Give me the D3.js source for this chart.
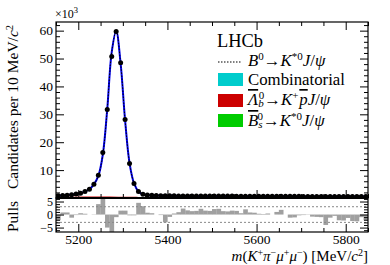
<!DOCTYPE html>
<html lang="en">
<head>
<meta charset="UTF-8">
<title>B0 to K*0 J/psi mass fit</title>
<script src="https://cdn.jsdelivr.net/npm/d3@7"></script>
<style>
  body { margin: 0; background: #fff; }
  svg, svg text { font-family: "Liberation Serif", "DejaVu Serif", serif; }
  .tick text { font-size: 13.5px; fill: #000; font-family: "Liberation Serif", serif; }
  .pullaxis .tick text { font-size: 12px; }
  .tick line { stroke: #000; stroke-width: 1; }
</style>
</head>
<body>
<svg width="390" height="265"></svg>
<script>
// bin centres (MeV/c^2), 10 MeV bins from 5150 to 5850
const massBins = [5155,5165,5175,5185,5195,5205,5215,5225,5235,5245,
  5255,5265,5275,5285,5295,5305,5315,5325,5335,5345,
  5355,5365,5375,5385,5395,5405,5415,5425,5435,5445,
  5455,5465,5475,5485,5495,5505,5515,5525,5535,5545,
  5555,5565,5575,5585,5595,5605,5615,5625,5635,5645,
  5655,5665,5675,5685,5695,5705,5715,5725,5735,5745,
  5755,5765,5775,5785,5795,5805,5815,5825,5835,5845];
// candidates per bin, in thousands
const candidates = [0.8,0.9,1.0,1.2,1.4,1.7,2.3,3.1,4.9,8.2,
  16.3,31.7,50.7,59.7,48.5,28.1,12.4,5.2,2.3,1.3,
  1.05,0.95,0.9,0.85,0.8,0.78,0.77,0.76,0.75,0.75,
  0.74,0.73,0.72,0.72,0.71,0.7,0.7,0.69,0.68,0.68,
  0.67,0.66,0.66,0.65,0.64,0.64,0.63,0.62,0.62,0.61,
  0.61,0.6,0.6,0.59,0.59,0.58,0.58,0.57,0.57,0.56,
  0.55,0.55,0.55,0.54,0.54,0.53,0.53,0.52,0.52,0.51];
// total fit at bin centres, in thousands
const fitTotal = [0.85,0.9,1.0,1.2,1.4,1.75,2.3,3.15,4.9,7.9,
  15.5,31.9,52.3,59.9,48.2,27.9,12.5,5.3,2.35,1.35,
  1.05,0.95,0.9,0.85,0.8,0.78,0.77,0.76,0.75,0.74,
  0.73,0.72,0.71,0.71,0.7,0.69,0.69,0.68,0.67,0.67,
  0.66,0.65,0.65,0.64,0.63,0.63,0.62,0.61,0.61,0.6,
  0.6,0.59,0.59,0.58,0.58,0.57,0.57,0.56,0.56,0.55,
  0.55,0.55,0.54,0.54,0.53,0.53,0.52,0.52,0.51,0.51];
// Lambda_b -> K+ pbar J/psi component, in thousands
const lambdabMass = [5150,5170,5190,5210,5230,5250,5270,5290,5310,5330,5345];
const lambdabValues = [0.25,0.26,0.27,0.28,0.28,0.28,0.28,0.27,0.25,0.2,0.0];
// pulls per bin
const pulls = [-2.2,0.8,0.8,-1.2,-0.2,0.5,0.3,0.0,0.1,4.0,
  6.5,-5.0,-7.0,-1.0,1.5,1.5,-0.3,-0.3,4.5,3.2,
  0.7,0.5,0.0,-0.2,-3.0,-0.9,0.4,0.9,2.3,1.6,
  1.3,1.4,2.2,1.5,1.4,2.1,2.2,1.3,1.2,1.5,
  1.4,0.5,2.0,0.8,0.7,0.3,0.2,0.4,0.0,1.0,
  1.8,0.0,-1.2,-1.1,-0.3,-0.2,-0.1,-0.8,-0.9,-1.0,
  -4.0,-1.2,-0.5,-2.2,-2.3,-1.3,-2.5,-2.6,-1.0,-2.2];
const xLabels = [5200, 5400, 5600, 5800];
const yLabels = [10, 20, 30, 40, 50, 60];
const pullLabels = [-5, 0, 5];

const svg = d3.select("svg");
const left = 56, right = 368;
const mainTop = 22, mainBottom = 198;
const pullTop = 198, pullBottom = 232;
const binWidth = 10;

const x = d3.scaleLinear().domain([5150, 5850]).range([left, right]);
const y = d3.scaleLinear().domain([0, 63.1]).range([mainBottom, mainTop]);
const yp = d3.scaleLinear().domain([-6.7, 6.35]).range([pullBottom, pullTop]);

svg.append("clipPath").attr("id", "clipMain")
  .append("rect").attr("x", left).attr("y", mainTop)
  .attr("width", right - left).attr("height", mainBottom - mainTop);
svg.append("clipPath").attr("id", "clipPull")
  .append("rect").attr("x", left).attr("y", pullTop)
  .attr("width", right - left).attr("height", pullBottom - pullTop);

// ---- pulls panel
const pullG = svg.append("g").attr("clip-path", "url(#clipPull)");
pullG.selectAll("rect.pull")
  .data(pulls)
  .enter().append("rect")
  .attr("class", "pull")
  .attr("x", (d, i) => x(massBins[i] - binWidth / 2))
  .attr("width", (d, i) => x(massBins[i] + binWidth / 2) - x(massBins[i] - binWidth / 2) + 0.2)
  .attr("y", d => Math.min(yp(d), yp(0)))
  .attr("height", d => Math.abs(yp(d) - yp(0)))
  .attr("fill", "#a0a0a0");

[-3, 3].forEach(v => {
  svg.append("line")
    .attr("x1", left).attr("x2", right)
    .attr("y1", yp(v)).attr("y2", yp(v))
    .attr("stroke", "#888").attr("stroke-width", 1)
    .attr("stroke-dasharray", "2,2");
});

// ---- main panel
const mainG = svg.append("g").attr("clip-path", "url(#clipMain)");

mainG.append("path")
  .datum(lambdabValues)
  .attr("fill", "none")
  .attr("stroke", "#cc0000")
  .attr("stroke-width", 1.2)
  .attr("d", d3.line()
    .x((d, i) => x(lambdabMass[i]))
    .y(d => y(d)));

const fitLine = d3.line()
  .x((d, i) => x(massBins[i]))
  .y(d => y(d))
  .curve(d3.curveCatmullRom);

mainG.append("path")
  .datum(fitTotal)
  .attr("fill", "none")
  .attr("stroke", "#0000ee")
  .attr("stroke-width", 2)
  .attr("d", fitLine);

mainG.append("path")
  .datum(fitTotal)
  .attr("fill", "none")
  .attr("stroke", "#000")
  .attr("stroke-width", 1)
  .attr("stroke-dasharray", "1.5,1.5")
  .attr("d", fitLine);

mainG.selectAll("circle.pt")
  .data(candidates)
  .enter().append("circle")
  .attr("class", "pt")
  .attr("cx", (d, i) => x(massBins[i]))
  .attr("cy", d => y(d))
  .attr("r", 2.5)
  .attr("fill", "#000");

// ---- axes (ROOT style, ticks inside)
function xTicks(g, yPos, dir, showLabels) {
  const minor = d3.range(5150, 5851, 50).filter(v => v % 200 !== 0);
  const axMaj = (dir === "bottom" ? d3.axisBottom(x) : d3.axisTop(x))
    .tickValues(xLabels).tickSize(-8).tickPadding(2)
    .tickFormat(showLabels ? d3.format("d") : "");
  const axMin = (dir === "bottom" ? d3.axisBottom(x) : d3.axisTop(x))
    .tickValues(minor).tickSize(-4).tickFormat("");
  const a = g.append("g").attr("transform", `translate(0,${yPos})`).call(axMaj);
  a.select(".domain").remove();
  const b = g.append("g").attr("transform", `translate(0,${yPos})`).call(axMin);
  b.select(".domain").remove();
  return a;
}

const axesG = svg.append("g");
xTicks(axesG, pullBottom, "bottom", true);
xTicks(axesG, mainBottom, "bottom", false);
xTicks(axesG, mainTop, "top", false);

function yTicks(g, scale, xPos, dir, major, minor, showLabels, fmt) {
  const mk = dir === "left" ? d3.axisLeft : d3.axisRight;
  const a = g.append("g").attr("transform", `translate(${xPos},0)`)
    .call(mk(scale).tickValues(major).tickSize(-8).tickPadding(3)
      .tickFormat(showLabels ? fmt : ""));
  a.select(".domain").remove();
  const b = g.append("g").attr("transform", `translate(${xPos},0)`)
    .call(mk(scale).tickValues(minor).tickSize(-4).tickFormat(""));
  b.select(".domain").remove();
  return a;
}

const yMinor = d3.range(0, 63, 2).filter(v => v % 10 !== 0);
yTicks(axesG, y, left, "left", yLabels, yMinor, true, d3.format("d"));
yTicks(axesG, y, right, "right", yLabels, yMinor, false);
const pMinor = d3.range(-6, 7, 1).filter(v => v % 5 !== 0);
yTicks(axesG, yp, left, "left", pullLabels, pMinor, true, d => d < 0 ? "\u2212" + Math.abs(d) : d)
  .attr("class", "pullaxis");
yTicks(axesG, yp, right, "right", pullLabels, pMinor, false);
axesG.selectAll("g").attr("font-family", "Liberation Serif");

// frames
svg.append("rect").attr("x", left).attr("y", mainTop)
  .attr("width", right - left).attr("height", mainBottom - mainTop)
  .attr("fill", "none").attr("stroke", "#000").attr("stroke-width", 1.2);
svg.append("rect").attr("x", left).attr("y", pullTop)
  .attr("width", right - left).attr("height", pullBottom - pullTop)
  .attr("fill", "none").attr("stroke", "#000").attr("stroke-width", 1.2);
svg.append("line").attr("x1", left).attr("x2", right)
  .attr("y1", mainBottom).attr("y2", mainBottom)
  .attr("stroke", "#000").attr("stroke-width", 2);

// ---- texts
const t10 = svg.append("text").attr("x", 55).attr("y", 18).attr("font-size", 12);
t10.append("tspan").text("\u00d710");
t10.append("tspan").attr("baseline-shift", "super").attr("font-size", 8.5).text("3");

const yt = svg.append("text")
  .attr("transform", `translate(18,107) rotate(-90)`)
  .attr("text-anchor", "middle").attr("font-size", 15.5);
yt.append("tspan").text("Candidates per 10 MeV/");
yt.append("tspan").attr("font-style", "italic").text("c");
yt.append("tspan").attr("baseline-shift", "super").attr("font-size", 10.5).text("2");

svg.append("text")
  .attr("transform", `translate(18,${yp(0) + 2}) rotate(-90)`)
  .attr("text-anchor", "middle").attr("font-size", 15.5).text("Pulls");

function addParts(t, parts, supSize) {
  parts.forEach(p => {
    const s = t.append("tspan").text(p.t);
    if (p.i) s.attr("font-style", "italic");
    if (p.sup) s.attr("baseline-shift", "super").attr("font-size", supSize);
    if (p.sub) s.attr("baseline-shift", "-20%").attr("font-size", supSize);
    if (p.o) s.attr("text-decoration", "overline");
    if (p.dx) s.attr("dx", p.dx);
  });
}
addParts(svg.append("text").attr("x", right).attr("y", 261)
  .attr("text-anchor", "end").attr("font-size", 15), [
  {t: "m", i: 1}, {t: "("}, {t: "K", i: 1}, {t: "+", sup: 1}, {t: "\u03c0", i: 1},
  {t: "\u2212", sup: 1}, {t: "\u03bc", i: 1}, {t: "+", sup: 1}, {t: "\u03bc", i: 1},
  {t: "\u2212", sup: 1}, {t: ") [MeV/"}, {t: "c", i: 1}, {t: "2", sup: 1}, {t: "]"}
], 10);

// ---- legend
svg.append("text").attr("x", 217).attr("y", 47).attr("font-size", 18.4).text("LHCb");

const legFont = 16.8, legSup = 11;
svg.append("line").attr("x1", 218).attr("x2", 241).attr("y1", 62).attr("y2", 62)
  .attr("stroke", "#000").attr("stroke-width", 1.2).attr("stroke-dasharray", "1.5,1.5");
addParts(svg.append("text").attr("x", 248).attr("y", 66).attr("font-size", legFont), [
  {t: "B", i: 1}, {t: "0", sup: 1}, {t: "\u2192"}, {t: "K", i: 1}, {t: "*0", sup: 1},
  {t: "J", i: 1}, {t: "/"}, {t: "\u03c8", i: 1}
], legSup);

const boxes = [
  {c: "#00cccc", y: 73},
  {c: "#cc0000", y: 94},
  {c: "#00cc00", y: 114}
];
boxes.forEach(b => {
  svg.append("rect").attr("x", 218).attr("y", b.y).attr("width", 25).attr("height", 13)
    .attr("fill", b.c);
});
svg.append("text").attr("x", 248).attr("y", 85).attr("font-size", legFont).text("Combinatorial");
addParts(svg.append("text").attr("x", 248).attr("y", 105).attr("font-size", legFont), [
  {t: "\u039b", i: 1, o: 1}, {t: "b", sub: 1, i: 1}, {t: "0", sup: 1, dx: -5}, {t: "\u2192"},
  {t: "K", i: 1}, {t: "+", sup: 1}, {t: "p", i: 1, o: 1, dx: 1}, {t: "J", i: 1}, {t: "/"}, {t: "\u03c8", i: 1}
], legSup);
addParts(svg.append("text").attr("x", 248).attr("y", 126).attr("font-size", legFont), [
  {t: "B", i: 1, o: 1}, {t: "s", sub: 1, i: 1}, {t: "0", sup: 1, dx: -5}, {t: "\u2192"},
  {t: "K", i: 1}, {t: "*0", sup: 1}, {t: "J", i: 1}, {t: "/"}, {t: "\u03c8", i: 1}
], legSup);
</script>
</body>
</html>
